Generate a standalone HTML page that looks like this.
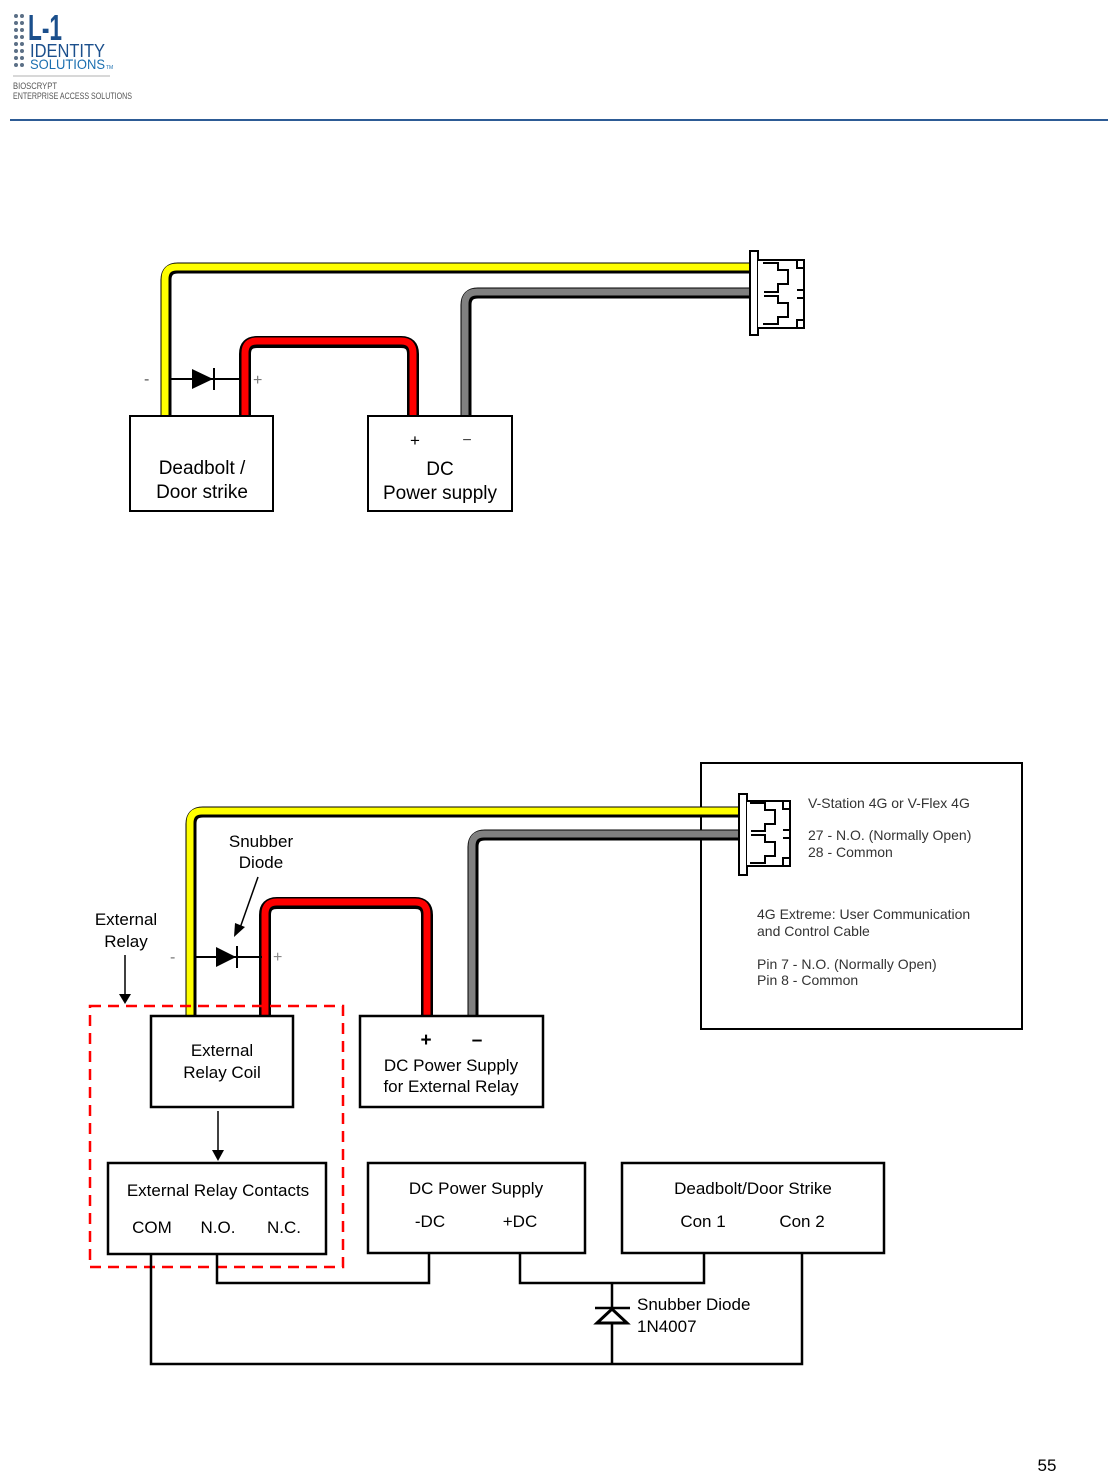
<!DOCTYPE html>
<html><head><meta charset="utf-8"><style>
html,body{margin:0;padding:0;background:#fff;}
svg{display:block;font-family:"Liberation Sans",Arial,sans-serif;}
</style></head><body>
<svg width="1118" height="1473" viewBox="0 0 1118 1473" xmlns="http://www.w3.org/2000/svg">
<rect width="1118" height="1473" fill="#fff"/>
<!-- logo -->
<g fill="#5b6f86">
<circle cx="16" cy="16" r="2"/><circle cx="22" cy="16" r="2"/>
<circle cx="16" cy="23" r="2"/><circle cx="22" cy="23" r="2"/>
<circle cx="16" cy="30" r="2"/><circle cx="22" cy="30" r="2"/>
<circle cx="16" cy="37" r="2"/><circle cx="22" cy="37" r="2"/>
<circle cx="16" cy="44" r="2"/><circle cx="22" cy="44" r="2"/>
<circle cx="16" cy="51" r="2"/><circle cx="22" cy="51" r="2"/>
<circle cx="16" cy="58" r="2"/><circle cx="22" cy="58" r="2"/>
<circle cx="16" cy="65" r="2"/><circle cx="22" cy="65" r="2"/>
</g>
<text x="28" y="40" font-size="36" font-weight="bold" fill="#1b4f8c" textLength="34" lengthAdjust="spacingAndGlyphs">L-1</text>
<text x="30" y="57" font-size="18" fill="#1b4f8c" textLength="75" lengthAdjust="spacingAndGlyphs">IDENTITY</text>
<text x="30" y="69" font-size="14" fill="#1b6fb0" textLength="75" lengthAdjust="spacingAndGlyphs">SOLUTIONS</text>
<text x="106" y="69" font-size="5" fill="#1b6fb0">TM</text>
<line x1="13" y1="76" x2="110" y2="76" stroke="#999" stroke-width="0.7"/>
<text x="13" y="89" font-size="9" fill="#555" textLength="44" lengthAdjust="spacingAndGlyphs">BIOSCRYPT</text>
<text x="13" y="99" font-size="9" fill="#555" textLength="119" lengthAdjust="spacingAndGlyphs">ENTERPRISE ACCESS SOLUTIONS</text>
<line x1="10" y1="120" x2="1108" y2="120" stroke="#2d5b95" stroke-width="2"/>

<!-- right info box (drawn first so wires pass over it) -->
<rect x="701" y="763" width="321" height="266" fill="#fff" stroke="#000" stroke-width="2"/>

<g fill="none" stroke-linejoin="round">
<!-- TOP diagram wires -->
<path d="M166 416 V280 Q166 268 178 268 H752" stroke="#000" stroke-width="11"/>
<path d="M166 416 V280 Q166 268 178 268 H752" stroke="#ff0" stroke-width="7" transform="translate(-1,-1)"/>
<path d="M466 416 V305 Q466 293 478 293 H752" stroke="#000" stroke-width="11"/>
<path d="M466 416 V305 Q466 293 478 293 H752" stroke="#808080" stroke-width="7" transform="translate(-1,-1)"/>
<path d="M245 416 V354 Q245 342 257 342 H401 Q413 342 413 354 V416" stroke="#000" stroke-width="12"/>
<path d="M245 416 V354 Q245 342 257 342 H401 Q413 342 413 354 V416" stroke="#f00" stroke-width="7" transform="translate(0,-1)"/>
<!-- BOTTOM wires -->
<path d="M191 1016 V824 Q191 812 203 812 H740" stroke="#000" stroke-width="11"/>
<path d="M191 1016 V824 Q191 812 203 812 H740" stroke="#ff0" stroke-width="7" transform="translate(-1,-1)"/>
<path d="M473 1016 V847 Q473 835 485 835 H740" stroke="#000" stroke-width="11"/>
<path d="M473 1016 V847 Q473 835 485 835 H740" stroke="#808080" stroke-width="7" transform="translate(-1,-1)"/>
<path d="M265 1016 V915 Q265 903 277 903 H415 Q427 903 427 915 V1016" stroke="#000" stroke-width="12"/>
<path d="M265 1016 V915 Q265 903 277 903 H415 Q427 903 427 915 V1016" stroke="#f00" stroke-width="7" transform="translate(0,-1)"/>
</g>

<!-- top diode -->
<line x1="170" y1="379" x2="241" y2="379" stroke="#000" stroke-width="2"/>
<polygon points="192,369 192,389 213,379" fill="#000"/>
<line x1="214" y1="368" x2="214" y2="390" stroke="#000" stroke-width="2"/>
<text x="144" y="384" font-size="16" fill="#555">-</text>
<text x="253" y="385" font-size="16" fill="#777">+</text>
<!-- top boxes -->
<rect x="130" y="416" width="143" height="95" fill="#fff" stroke="#000" stroke-width="2"/>
<text x="202" y="474" font-size="19" text-anchor="middle" fill="#000">Deadbolt /</text>
<text x="202" y="498" font-size="19" text-anchor="middle" fill="#000">Door strike</text>
<rect x="368" y="416" width="144" height="95" fill="#fff" stroke="#000" stroke-width="2"/>
<text x="415" y="446" font-size="17" text-anchor="middle">+</text>
<text x="467" y="445" font-size="16" text-anchor="middle" fill="#444">−</text>
<text x="440" y="475" font-size="19" text-anchor="middle">DC</text>
<text x="440" y="499" font-size="19" text-anchor="middle">Power supply</text>
<!-- top connector -->
<g fill="#fff" stroke="#000" stroke-width="2">
<rect x="750" y="251" width="8" height="84"/>
<path d="M758 260 H804 V328 H758"/>
<path d="M763 263 H778 V270 H788 V284 H778 V292 H764 M764 296 H778 V303 H788 V317 H778 V324 H763" fill="none"/>
<path d="M797 260 V268 H804 M797 328 V320 H804 M797 290 H804 M797 298 H804" fill="none"/>
</g>

<!-- bottom connector -->
<g fill="#fff" stroke="#000" stroke-width="2">
<rect x="739" y="794" width="8" height="81"/>
<path d="M747 801 H790 V866 H747"/>
<path d="M750 803 H765 V810 H775 V824 H765 V831 H751 M751 835 H765 V842 H775 V856 H765 V863 H750" fill="none"/>
<path d="M783 801 V809 H790 M783 866 V858 H790 M783 830 H790 M783 838 H790" fill="none"/>
</g>
<g font-size="14" fill="#333">
<text x="808" y="808">V-Station 4G or V-Flex 4G</text>
<text x="808" y="840">27 - N.O. (Normally Open)</text>
<text x="808" y="857">28 - Common</text>
<text x="757" y="919">4G Extreme: User Communication</text>
<text x="757" y="936">and Control Cable</text>
<text x="757" y="969">Pin 7 - N.O. (Normally Open)</text>
<text x="757" y="985">Pin 8 - Common</text>
</g>

<!-- bottom diode -->
<line x1="196" y1="957" x2="262" y2="957" stroke="#000" stroke-width="2"/>
<polygon points="216,947 216,967 236,957" fill="#000"/>
<line x1="237" y1="946" x2="237" y2="968" stroke="#000" stroke-width="2"/>
<text x="170" y="962" font-size="16" fill="#777">-</text>
<text x="273" y="962" font-size="16" fill="#888">+</text>
<!-- labels and arrows -->
<text x="261" y="847" font-size="17" text-anchor="middle">Snubber</text>
<text x="261" y="868" font-size="17" text-anchor="middle">Diode</text>
<line x1="258" y1="877" x2="240" y2="928" stroke="#000" stroke-width="1.5"/>
<polygon points="234,937 235,923 245,927" fill="#000"/>
<text x="126" y="925" font-size="17" text-anchor="middle">External</text>
<text x="126" y="947" font-size="17" text-anchor="middle">Relay</text>
<line x1="125" y1="955" x2="125" y2="996" stroke="#000" stroke-width="1.5"/>
<polygon points="119,994 131,994 125,1004" fill="#000"/>

<rect x="90" y="1006" width="253" height="261" fill="none" stroke="#f00" stroke-width="2.5" stroke-dasharray="11,7"/>
<rect x="151" y="1016" width="142" height="91" fill="#fff" stroke="#000" stroke-width="2.5"/>
<text x="222" y="1056" font-size="17" text-anchor="middle">External</text>
<text x="222" y="1078" font-size="17" text-anchor="middle">Relay Coil</text>
<rect x="360" y="1016" width="183" height="91" fill="#fff" stroke="#000" stroke-width="2.5"/>
<text x="426" y="1046" font-size="19" font-weight="bold" text-anchor="middle">+</text>
<text x="477" y="1046" font-size="19" font-weight="bold" text-anchor="middle">–</text>
<text x="451" y="1071" font-size="17" text-anchor="middle">DC Power Supply</text>
<text x="451" y="1092" font-size="17" text-anchor="middle">for External Relay</text>

<line x1="218" y1="1111" x2="218" y2="1152" stroke="#000" stroke-width="1.5"/>
<polygon points="212,1150 224,1150 218,1161" fill="#000"/>

<!-- bottom connecting lines -->
<g fill="none" stroke="#000" stroke-width="2.5">
<path d="M151 1254 V1364 H802 V1254"/>
<path d="M217 1254 V1283 H429 V1253"/>
<path d="M520 1253 V1283 H704 V1253"/>
<path d="M612 1283 V1364"/>
<line x1="595" y1="1308" x2="630" y2="1308"/>
</g>
<polygon points="612,1309 597,1323 627,1323" fill="#fff" stroke="#000" stroke-width="3"/>
<text x="637" y="1310" font-size="17">Snubber Diode</text>
<text x="637" y="1332" font-size="17">1N4007</text>

<rect x="108" y="1163" width="218" height="91" fill="#fff" stroke="#000" stroke-width="2.5"/>
<text x="218" y="1196" font-size="17" text-anchor="middle">External Relay Contacts</text>
<text x="152" y="1233" font-size="17" text-anchor="middle">COM</text>
<text x="218" y="1233" font-size="17" text-anchor="middle">N.O.</text>
<text x="284" y="1233" font-size="17" text-anchor="middle">N.C.</text>
<rect x="368" y="1163" width="217" height="90" fill="#fff" stroke="#000" stroke-width="2.5"/>
<text x="476" y="1194" font-size="17" text-anchor="middle">DC Power Supply</text>
<text x="430" y="1227" font-size="17" text-anchor="middle">-DC</text>
<text x="520" y="1227" font-size="17" text-anchor="middle">+DC</text>
<rect x="622" y="1163" width="262" height="90" fill="#fff" stroke="#000" stroke-width="2.5"/>
<text x="753" y="1194" font-size="17" text-anchor="middle">Deadbolt/Door Strike</text>
<text x="703" y="1227" font-size="17" text-anchor="middle">Con 1</text>
<text x="802" y="1227" font-size="17" text-anchor="middle">Con 2</text>

<text x="1047" y="1471" font-size="17" text-anchor="middle">55</text>
</svg>
</body></html>
